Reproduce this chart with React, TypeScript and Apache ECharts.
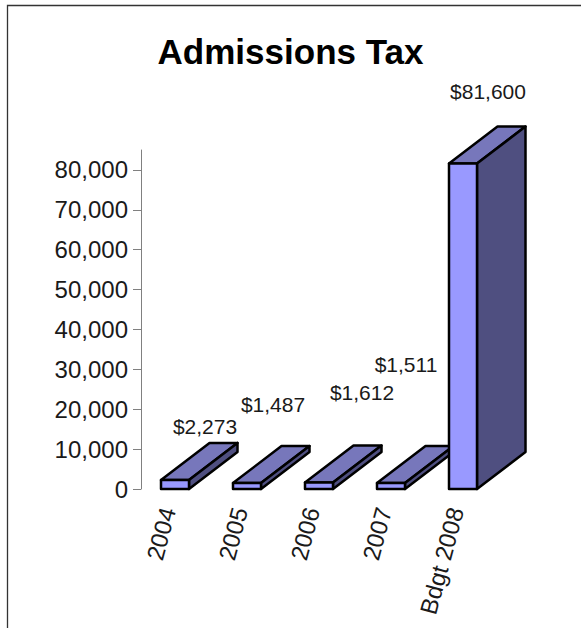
import React, { useEffect, useRef } from "react";
import * as echarts from "echarts";

const categories = ["2004", "2005", "2006", "2007", "Bdgt 2008"];
const admissions = [2273, 1487, 1612, 1511, 81600];
const yTicks = [0, 10000, 20000, 30000, 40000, 50000, 60000, 70000, 80000];

// Offset of each value label from the top-right front corner of its bar.
const labelOffsets = [
  [16, -53],
  [12, -79],
  [29, -90],
  [1, -118],
  [11, -72],
];

const FRONT = "#9999ff";
const TOP = "#7777bb";
const SIDE = "#4f4f80";
const EDGE = "#000000";
const DEPTH_X = 48.5;
const DEPTH_Y = -37;
const BAR_WIDTH = 28;
// The bars sit to the right of their category centres, clear of the slanted labels.
const BAND_SHIFT = 7;

const money = (v: number) => "$" + v.toLocaleString("en-US");

function renderBar(params: any, api: any) {
  const i = api.value(0);
  const value = api.value(1);
  const [cx, yTop] = api.coord([i, value]);
  const [, yBase] = api.coord([i, 0]);
  const x0 = cx + BAND_SHIFT - BAR_WIDTH / 2;
  const x1 = x0 + BAR_WIDTH;
  const line = { stroke: EDGE, lineWidth: 2.5, lineJoin: "round" };
  const [ox, oy] = labelOffsets[i];
  return {
    type: "group",
    children: [
      {
        type: "polygon",
        shape: {
          points: [
            [x0, yTop],
            [x0 + DEPTH_X, yTop + DEPTH_Y],
            [x1 + DEPTH_X, yTop + DEPTH_Y],
            [x1, yTop],
          ],
        },
        style: { fill: TOP, ...line },
      },
      {
        type: "polygon",
        shape: {
          points: [
            [x1, yTop],
            [x1 + DEPTH_X, yTop + DEPTH_Y],
            [x1 + DEPTH_X, yBase + DEPTH_Y],
            [x1, yBase],
          ],
        },
        style: { fill: SIDE, ...line },
      },
      {
        type: "rect",
        shape: { x: x0, y: yTop, width: BAR_WIDTH, height: yBase - yTop },
        style: { fill: FRONT, ...line },
      },
      {
        type: "text",
        x: x1 + ox,
        y: yTop + oy,
        style: {
          text: money(value),
          fill: "#1a1a1a",
          font: "21px 'Liberation Sans'",
          align: "center",
          verticalAlign: "middle",
        },
      },
    ],
  };
}

export default function App() {
  const ref = useRef<HTMLDivElement>(null);
  useEffect(() => {
    const chart = echarts.init(ref.current!, null, { renderer: "svg" });
    chart.setOption({
      animation: false,
      backgroundColor: "#ffffff",
      textStyle: { fontFamily: "'Liberation Sans'" },
      title: {
        text: "Admissions Tax",
        left: 285.5,
        top: 29,
        textAlign: "center",
        textStyle: {
          fontSize: 35,
          fontWeight: "bold",
          color: "#000000",
          fontFamily: "'Liberation Sans'",
        },
      },
      graphic: [
        {
          type: "polyline",
          silent: true,
          z: 0,
          shape: {
            points: [
              [7.5, 628],
              [7.5, 5.5],
              [581, 5.5],
            ],
          },
          style: { fill: "none", stroke: "#333333", lineWidth: 1.3 },
        },
      ],
      grid: { left: 132, top: 150, width: 360, height: 339 },
      xAxis: {
        type: "category",
        data: categories,
        axisLine: { show: false },
        axisTick: { show: false },
        axisLabel: {
          rotate: 75,
          interval: 0,
          fontSize: 24,
          color: "#1a1a1a",
          margin: 19,
        },
      },
      yAxis: {
        type: "value",
        min: 0,
        max: 85000,
        offset: -9,
        splitLine: { show: false },
        axisLine: { show: true, lineStyle: { color: "#808080", width: 1 } },
        axisTick: {
          show: true,
          length: 8,
          lineStyle: { color: "#808080" },
          customValues: yTicks,
        },
        axisLabel: {
          fontSize: 24,
          color: "#1a1a1a",
          margin: 13,
          customValues: yTicks,
          formatter: (v: number) => v.toLocaleString("en-US"),
        },
      },
      series: [
        {
          type: "custom",
          renderItem: renderBar,
          clip: false,
          encode: { x: 0, y: 1 },
          data: admissions.map((v, i) => [i, v]),
        },
      ],
    });
    return () => chart.dispose();
  }, []);
  return <div ref={ref} style={{ width: 581, height: 628, position: "fixed", left: 0, top: 0 }} />;
}
